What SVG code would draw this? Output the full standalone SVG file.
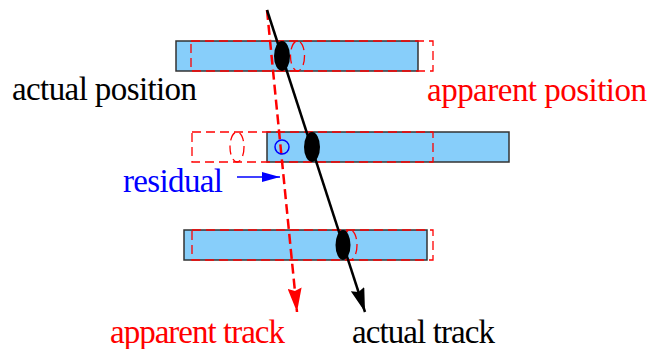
<svg xmlns="http://www.w3.org/2000/svg" width="651" height="349" viewBox="0 0 651 349">
<defs>
<style>
.bar{fill:#87cefa;stroke:#333;stroke-width:1.5}
.app{fill:none;stroke:#ff0000;stroke-width:1.3;stroke-dasharray:9 5}
.hit{fill:#000}
.t{font-family:"Liberation Serif","Times New Roman",serif;font-size:33px}
</style>
<marker id="ab" markerWidth="24" markerHeight="14" refX="24" refY="7" viewBox="0 0 24 14" orient="auto" markerUnits="userSpaceOnUse"><path d="M0,0 L24,7 L0,14 L3,7 Z" fill="#000"/></marker>
<marker id="ar" markerWidth="24" markerHeight="14" refX="24" refY="7" viewBox="0 0 24 14" orient="auto" markerUnits="userSpaceOnUse"><path d="M0,0 L24,7 L0,14 L3,7 Z" fill="#ff0000"/></marker>
<marker id="abl" markerWidth="18" markerHeight="10" refX="18" refY="5" viewBox="0 0 18 10" orient="auto" markerUnits="userSpaceOnUse"><path d="M0,0 L18,5 L0,10 Z" fill="#0000ff"/></marker>
</defs>
<g id="layer1">
<rect class="bar" x="176" y="41" width="242" height="30"/>
<rect class="app" x="191" y="41" width="242" height="30"/>
<ellipse class="app" cx="297.5" cy="56" rx="7" ry="15"/>
</g>
<g id="layer2">
<rect class="bar" x="267" y="132" width="242" height="30"/>
<rect class="app" x="192" y="132" width="241" height="30"/>
<ellipse class="app" cx="237" cy="147" rx="7" ry="15"/>
</g>
<g id="layer3">
<rect class="bar" x="184" y="230" width="243" height="30"/>
<rect class="app" x="192" y="230" width="241" height="30"/>
<ellipse class="app" cx="350" cy="245" rx="7" ry="15"/>
</g>
<g id="connectors">
<line x1="267" y1="10" x2="297" y2="312" stroke="#ff0000" stroke-width="2.5" stroke-dasharray="10 5" marker-end="url(#ar)"/>
<line x1="267" y1="10" x2="365" y2="312" stroke="#000" stroke-width="2.5" marker-end="url(#ab)"/>
<line x1="237" y1="177" x2="280" y2="177" stroke="#0000ff" stroke-width="1.5" marker-end="url(#abl)"/>
</g>
<g id="hits">
<ellipse class="hit" cx="282" cy="56" rx="8" ry="15"/>
<ellipse class="hit" cx="312" cy="147" rx="8" ry="15"/>
<ellipse class="hit" cx="343" cy="245" rx="7.5" ry="15"/>
<circle cx="282" cy="147" r="7" fill="none" stroke="#0000ff" stroke-width="1.5"/>
</g>
<g id="labels">
<text class="t" x="12" y="100" textLength="185" fill="#000">actual position</text>
<text class="t" x="427" y="101" textLength="220" fill="#ff0000">apparent position</text>
<text class="t" x="123" y="192" textLength="100" fill="#0000ff">residual</text>
<text class="t" x="110" y="343" textLength="175" fill="#ff0000">apparent track</text>
<text class="t" x="352" y="343" textLength="143" fill="#000">actual track</text>
</g>
</svg>
